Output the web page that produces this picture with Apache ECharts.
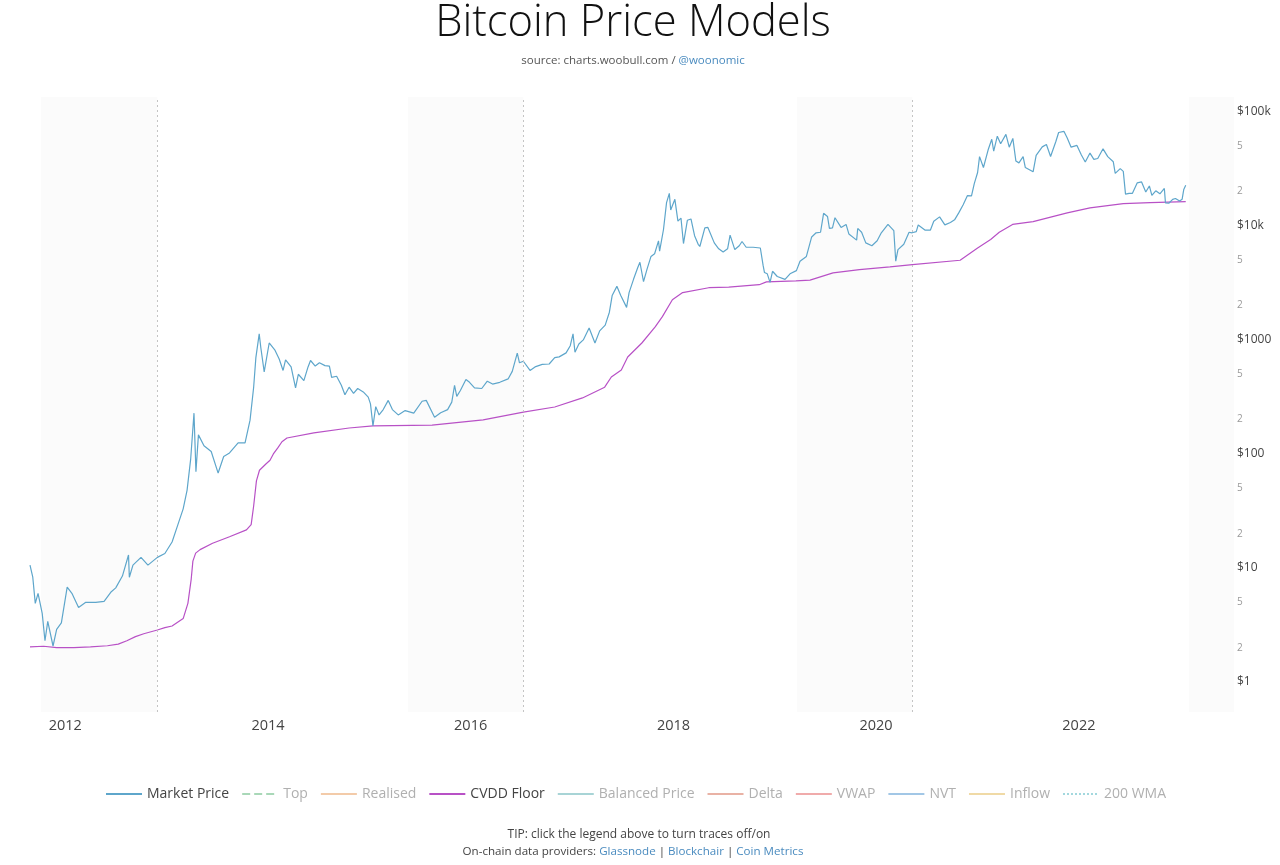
<!DOCTYPE html>
<html>
<head>
<meta charset="utf-8">
<title>Bitcoin Price Models</title>
<script src="https://cdn.jsdelivr.net/npm/echarts@6/dist/echarts.min.js"></script>
<style>
  html, body { margin: 0; padding: 0; background: #ffffff; }
  #chart { width: 1280px; height: 865px; }
</style>
</head>
<body>
<div id="chart"></div>
<script>
// ---------------- DATA ----------------
const marketDates = [
  '2011-08-27','2011-09-06','2011-09-15','2011-09-25','2011-10-10','2011-10-20','2011-10-30','2011-11-18','2011-12-01','2011-12-18',
  '2012-01-08','2012-01-25','2012-02-18','2012-03-15','2012-04-20','2012-05-20','2012-06-15','2012-07-01','2012-07-25','2012-08-16',
  '2012-08-19','2012-09-01','2012-09-30','2012-10-25','2012-11-28','2012-12-25','2013-01-20','2013-02-10','2013-03-01','2013-03-15',
  '2013-03-28','2013-04-09','2013-04-16','2013-04-25','2013-05-15','2013-06-10','2013-07-05','2013-07-25','2013-08-15','2013-09-15',
  '2013-10-10','2013-10-28','2013-11-10','2013-11-18','2013-11-30','2013-12-06','2013-12-18','2014-01-05','2014-01-25','2014-02-10',
  '2014-02-24','2014-03-05','2014-03-25','2014-04-10','2014-04-20','2014-05-10','2014-05-25','2014-06-03','2014-06-20','2014-07-05',
  '2014-07-25','2014-08-10','2014-08-18','2014-09-05','2014-09-22','2014-10-05','2014-10-20','2014-11-05','2014-11-20','2014-12-10',
  '2014-12-28','2015-01-05','2015-01-14','2015-01-24','2015-02-05','2015-02-20','2015-03-10','2015-03-25','2015-04-15','2015-05-10',
  '2015-06-10','2015-07-10','2015-07-25','2015-08-24','2015-09-15','2015-10-10','2015-10-25','2015-11-04','2015-11-12','2015-11-25',
  '2015-12-15','2015-12-28','2016-01-15','2016-02-10','2016-03-01','2016-03-20','2016-04-15','2016-05-15','2016-05-30','2016-06-17',
  '2016-06-25','2016-07-09','2016-08-02','2016-08-20','2016-09-15','2016-10-10','2016-10-30','2016-11-15','2016-12-10','2016-12-25',
  '2017-01-04','2017-01-11','2017-01-25','2017-02-10','2017-03-03','2017-03-24','2017-04-10','2017-04-30','2017-05-15','2017-05-25',
  '2017-06-11','2017-06-25','2017-07-16','2017-07-25','2017-08-10','2017-08-25','2017-09-02','2017-09-15','2017-09-28','2017-10-12',
  '2017-10-25','2017-11-08','2017-11-12','2017-11-26','2017-12-07','2017-12-17','2017-12-22','2018-01-06','2018-01-17','2018-01-28',
  '2018-02-06','2018-02-20','2018-03-05','2018-03-18','2018-03-31','2018-04-06','2018-04-24','2018-05-05','2018-05-28','2018-06-13',
  '2018-06-29','2018-07-15','2018-07-24','2018-08-10','2018-08-26','2018-09-05','2018-09-20','2018-10-15','2018-11-10','2018-11-20',
  '2018-11-25','2018-12-05','2018-12-15','2018-12-24','2019-01-10','2019-02-07','2019-02-25','2019-03-20','2019-04-02','2019-04-25',
  '2019-05-14','2019-05-30','2019-06-15','2019-06-26','2019-07-10','2019-07-17','2019-07-28','2019-08-06','2019-08-28','2019-09-15',
  '2019-09-25','2019-10-23','2019-10-27','2019-11-10','2019-11-25','2019-12-17','2020-01-05','2020-01-20','2020-02-13','2020-03-05',
  '2020-03-12','2020-03-20','2020-04-10','2020-04-29','2020-05-10','2020-05-25','2020-06-01','2020-06-25','2020-07-15','2020-07-27',
  '2020-08-17','2020-09-05','2020-09-25','2020-10-10','2020-10-25','2020-11-10','2020-11-25','2020-12-10','2020-12-20','2021-01-01',
  '2021-01-08','2021-01-22','2021-02-08','2021-02-21','2021-02-28','2021-03-13','2021-03-25','2021-04-13','2021-04-25','2021-05-08',
  '2021-05-19','2021-05-30','2021-06-14','2021-06-22','2021-07-20','2021-07-31','2021-08-22','2021-09-06','2021-09-21','2021-10-10',
  '2021-10-20','2021-11-08','2021-11-20','2021-12-04','2021-12-25','2022-01-10','2022-01-24','2022-02-10','2022-02-24','2022-03-10',
  '2022-03-29','2022-04-15','2022-05-05','2022-05-12','2022-05-30','2022-06-10','2022-06-18','2022-07-01','2022-07-13','2022-07-30',
  '2022-08-15','2022-08-30','2022-09-12','2022-09-21','2022-10-05','2022-10-20','2022-11-05','2022-11-09','2022-11-21','2022-12-05',
  '2022-12-15','2022-12-30','2023-01-08','2023-01-14','2023-01-19','2023-01-21'
];
const marketPrices = [
  10.6, 8.3, 4.9, 6.0, 4.0, 2.3, 3.4, 2.07, 2.9, 3.3,
  6.8, 6.0, 4.5, 5.0, 5.0, 5.1, 6.2, 6.7, 8.5, 13.0,
  8.3, 10.6, 12.4, 10.6, 12.4, 13.4, 16.9, 24, 33, 48,
  90, 228, 70, 147, 118, 105, 68, 95, 102, 125,
  125, 198, 385, 700, 1130, 850, 525, 940, 820, 680,
  540, 670, 580, 380, 500, 440, 580, 660, 590, 630,
  595, 590, 470, 480, 400, 330, 385, 340, 375, 350,
  315, 275, 176, 260, 220, 245, 295, 245, 220, 240,
  228, 290, 295, 210, 230, 245, 285, 400, 320, 360,
  450, 425, 380, 375, 435, 410, 425, 455, 530, 766,
  630, 650, 540, 580, 610, 615, 700, 710, 770, 890,
  1130, 780, 920, 1000, 1270, 940, 1200, 1350, 1750, 2450,
  2950, 2450, 1930, 2600, 3400, 4300, 4800, 3250, 4200, 5400,
  5700, 7400, 6000, 9300, 16000, 19300, 13800, 17100, 11000, 11700,
  7000, 11200, 11500, 8200, 6900, 6600, 9600, 9700, 7100, 6300,
  5900, 6300, 8300, 6200, 6700, 7300, 6500, 6500, 6400, 4500,
  3900, 3800, 3200, 4000, 3600, 3400, 3800, 4050, 4900, 5400,
  8000, 8700, 8800, 12900, 12100, 9500, 9600, 11800, 9700, 10300,
  8500, 7500, 9500, 8800, 7100, 6700, 7400, 8700, 10300, 9100,
  4900, 6200, 6900, 8800, 8700, 8900, 10200, 9200, 9200, 11000,
  12000, 10200, 10700, 11300, 13000, 15300, 18400, 18300, 23500, 29400,
  40500, 32500, 46500, 57500, 45200, 61200, 52500, 63500, 49000, 58500,
  37000, 35700, 40500, 32500, 29800, 41500, 49300, 51700, 40600, 55000,
  65900, 67500, 59000, 49000, 50800, 41800, 36300, 43500, 38300, 39000,
  47400, 40500, 36500, 28900, 31800, 30100, 19000, 19300, 19300, 23800,
  24300, 19800, 22400, 18500, 20300, 19100, 21300, 15900, 15800, 17100,
  17400, 16550, 17100, 20900, 21000, 22700
];

const cvddDates = [
  '2011-08-27','2011-10-15','2011-12-01','2012-02-01','2012-04-01','2012-06-01','2012-07-10','2012-08-10','2012-09-10','2012-10-10',
  '2012-11-28','2012-12-25','2013-01-20','2013-03-01','2013-03-18','2013-03-30','2013-04-05','2013-04-15','2013-05-01','2013-06-15',
  '2013-08-15','2013-10-15','2013-11-01','2013-11-10','2013-11-20','2013-12-01','2013-12-25','2014-01-08','2014-01-20','2014-02-05',
  '2014-02-20','2014-03-10','2014-06-15','2014-10-20','2015-01-14','2015-08-15','2016-02-15','2016-07-09','2016-10-30','2017-02-07',
  '2017-04-28','2017-05-22','2017-06-27','2017-07-20','2017-09-09','2017-10-27','2017-11-22','2017-12-28','2018-02-03','2018-05-08',
  '2018-07-19','2018-11-06','2018-12-02','2019-03-18','2019-05-08','2019-07-30','2019-11-02','2020-02-20','2020-05-11','2020-10-30',
  '2021-01-01','2021-02-17','2021-03-20','2021-05-07','2021-07-20','2021-11-20','2022-02-10','2022-06-10','2022-09-15','2023-01-21'
];
const cvddValues = [
  2.03, 2.06, 2.0, 2.0, 2.03, 2.08, 2.15, 2.3, 2.5, 2.65,
  2.86, 3.0, 3.1, 3.6, 4.9, 8.0, 11.5, 13.5, 14.5, 16.5,
  18.8, 21.6, 24, 35, 58, 72, 82, 88, 100, 113,
  128, 138, 153, 169, 176, 179, 199, 233, 258, 310,
  385, 473, 545, 708, 940, 1300, 1600, 2250, 2600, 2870,
  2900, 3050, 3230, 3300, 3350, 3870, 4140, 4370, 4580, 5000,
  6400, 7600, 8800, 10300, 10900, 13000, 14400, 15700, 16000, 16300
];

const halvingDates = ['2012-11-28', '2016-07-09', '2020-05-11'];
const bandStarts = ['2011-10-05', '2015-05-20', '2019-03-22', '2023-02-02'];
const bandEnds   = ['2012-11-28', '2016-07-09', '2020-05-11', '2023-07-14'];
const xMin = '2011-08-27';
const xMax = '2023-07-14';
const yearTicks = [2012, 2014, 2016, 2018, 2020, 2022];
const yTickValues = [1, 2, 5, 10, 20, 50, 100, 200, 500, 1000, 2000, 5000, 10000, 20000, 50000, 100000];
const yMajorLabels = { 1: '$1', 10: '$10', 100: '$100', 1000: '$1000', 10000: '$10k', 100000: '$100k' };

const legendNames = ['Market Price', 'Top', 'Realised', 'CVDD Floor', 'Balanced Price', 'Delta', 'VWAP', 'NVT', 'Inflow', '200 WMA'];
const legendActive = ['Market Price', 'CVDD Floor'];

// ---------------- STYLES ----------------
const seriesStyles = {
  'Market Price':   { color: '#5ea6cb', type: 'solid' },
  'Top':            { color: '#a9d8b8', type: 'dashed' },
  'Realised':       { color: '#f3cba9', type: 'solid' },
  'CVDD Floor':     { color: '#b851c6', type: 'solid' },
  'Balanced Price': { color: '#a8d4d6', type: 'solid' },
  'Delta':          { color: '#e9b2a5', type: 'solid' },
  'VWAP':           { color: '#f0abab', type: 'solid' },
  'NVT':            { color: '#a2c7e6', type: 'solid' },
  'Inflow':         { color: '#f0daa6', type: 'solid' },
  '200 WMA':        { color: '#a3d8de', type: 'dotted' }
};

const FONT = 'Open Sans';
const BLUE = '#4a8bbf';
const CENTER_X = 632;

function toTs(s) {
  const p = s.split('-').map(Number);
  return new Date(p[0], p[1] - 1, p[2]).getTime();
}

const marketData = marketDates.map((d, i) => [toTs(d), marketPrices[i]]);
const cvddData = cvddDates.map((d, i) => [toTs(d), cvddValues[i]]);

function yLabel(v) {
  const e = Math.log10(v);
  const r = Math.round(e);
  if (Math.abs(e - r) < 1e-6) {
    return yMajorLabels[Math.round(Math.pow(10, r))] || '';
  }
  const digit = Math.round(v / Math.pow(10, Math.floor(e + 1e-9)));
  return '{m|' + digit + '}';
}

const series = legendNames.map(name => {
  const st = seriesStyles[name];
  const s = {
    name: name,
    type: 'line',
    showSymbol: false,
    symbol: 'none',
    smooth: false,
    lineStyle: { color: st.color, width: 1.2, type: st.type },
    itemStyle: { color: st.color },
    emphasis: { disabled: true },
    data: []
  };
  if (name === 'Market Price') {
    s.data = marketData;
    s.z = 3;
    s.markArea = {
      silent: true,
      itemStyle: { color: '#fbfbfb' },
      data: bandStarts.map((b, i) => [{ xAxis: toTs(b) }, { xAxis: toTs(bandEnds[i]) }])
    };
    s.markLine = {
      silent: true,
      symbol: ['none', 'none'],
      label: { show: false },
      lineStyle: { color: '#c4c4c4', type: [2, 3], width: 1 },
      data: halvingDates.map(d => ({ xAxis: toTs(d) }))
    };
  }
  if (name === 'CVDD Floor') {
    s.data = cvddData;
    s.z = 2;
  }
  return s;
});

const legendData = legendNames.map(name => {
  if (legendActive.indexOf(name) >= 0) return { name: name };
  return { name: name, textStyle: { color: '#b0b0b0' } };
});

const option = {
  animation: false,
  backgroundColor: '#ffffff',
  title: [
    {
      text: 'Bitcoin Price Models',
      left: CENTER_X - 4,
      textAlign: 'center',
      top: -3,
      textStyle: { fontFamily: FONT, fontWeight: 300, fontSize: 43.5, color: '#111111' }
    },
    {
      text: 'source: charts.woobull.com / {b|@woonomic}',
      left: CENTER_X - 4,
      textAlign: 'center',
      top: 50,
      textStyle: {
        fontFamily: FONT, fontWeight: 'normal', fontSize: 11.5, color: '#555555',
        rich: { b: { fontFamily: FONT, fontSize: 11.5, color: BLUE } }
      }
    },
    {
      text: 'TIP: click the legend above to turn traces off/on',
      left: CENTER_X + 2,
      textAlign: 'center',
      top: 824,
      textStyle: { fontFamily: FONT, fontWeight: 'normal', fontSize: 12, color: '#444444' }
    },
    {
      text: 'On-chain data providers: {b|Glassnode} | {b|Blockchair} | {b|Coin Metrics}',
      left: CENTER_X - 4,
      textAlign: 'center',
      top: 841,
      textStyle: {
        fontFamily: FONT, fontWeight: 'normal', fontSize: 11.6, color: '#444444',
        rich: { b: { fontFamily: FONT, fontSize: 11.6, color: BLUE } }
      }
    }
  ],
  legend: {
    data: legendData,
    left: 100,
    top: 782,
    itemWidth: 36,
    itemHeight: 14,
    itemGap: 12,
    selectedMode: true,
    itemStyle: { opacity: 0 },
    textStyle: { fontFamily: FONT, fontSize: 14, color: '#444444' }
  },
  grid: { left: 30, right: 46, top: 97, bottom: 153, containLabel: false },
  xAxis: {
    type: 'value',
    min: toTs(xMin),
    max: toTs(xMax),
    axisLine: { show: false },
    axisTick: { show: false },
    splitLine: { show: false },
    axisLabel: {
      customValues: yearTicks.map(y => new Date(y, 0, 1).getTime()),
      formatter: v => String(new Date(v).getFullYear()),
      fontFamily: FONT,
      fontSize: 14.5,
      color: '#444444',
      margin: 6
    }
  },
  yAxis: {
    type: 'log',
    logBase: 10,
    position: 'right',
    min: 0.546,
    max: 135000,
    axisLine: { show: false },
    axisTick: { show: false },
    splitLine: { show: false },
    axisLabel: {
      customValues: yTickValues,
      formatter: yLabel,
      align: 'left',
      margin: 3,
      fontFamily: FONT,
      fontSize: 12,
      color: '#444444',
      rich: { m: { fontFamily: FONT, fontSize: 10, color: '#9a9a9a' } }
    }
  },
  series: series
};

const chart = echarts.init(document.getElementById('chart'), null, { renderer: 'canvas' });
chart.setOption(option);
</script>
</body>
</html>
